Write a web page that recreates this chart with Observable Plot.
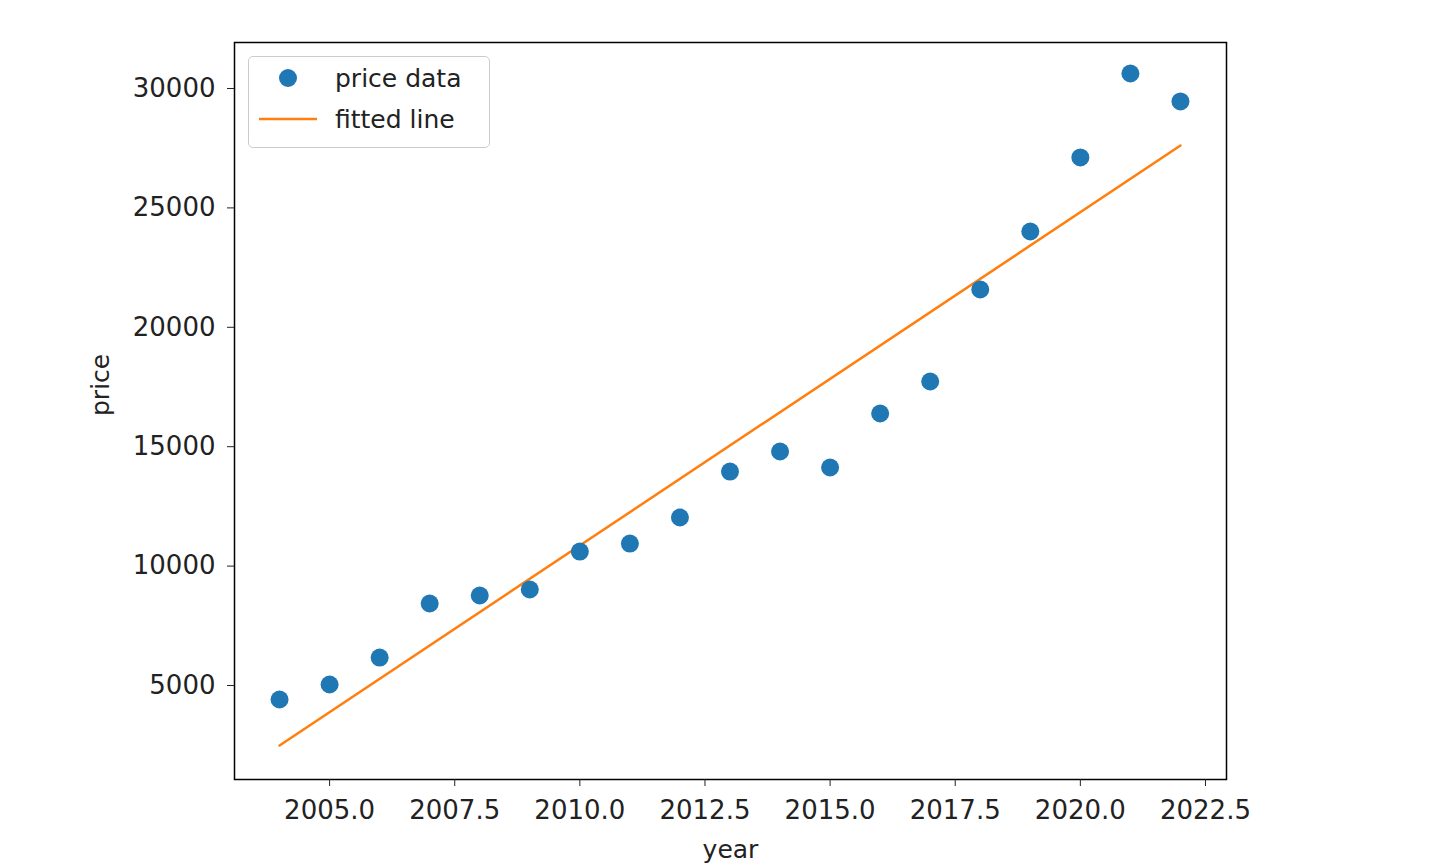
<!DOCTYPE html>
<html><head><meta charset="utf-8">
<script src="https://cdn.jsdelivr.net/npm/d3@7"></script>
<script src="https://cdn.jsdelivr.net/npm/@observablehq/plot@0.6"></script>
<style>
body{margin:0;background:#fff;font-family:"DejaVu Sans",sans-serif;}
#wrap{position:relative;width:1445px;height:865px;}
#legend{position:absolute;left:248px;top:56px;width:240px;height:90px;border:1.5px solid #ccc;border-radius:5px;background:rgba(255,255,255,0.8);font-size:25px;color:#222;}
.row{position:absolute;left:10px;display:flex;align-items:center;}
</style></head>
<body><div id="wrap"><div id="chart"></div>
<div id="legend">
<div class="row" style="top:6px"><svg width="58" height="30"><circle cx="29" cy="15" r="9" fill="#1f77b4"/></svg><span style="margin-left:18px">price data</span></div>
<div class="row" style="top:47px"><svg width="58" height="30"><line x1="0" x2="58" y1="15" y2="15" stroke="#ff7f0e" stroke-width="2.5"/></svg><span style="margin-left:18px">fitted line</span></div>
</div></div>
<script>
const years = [2004,2005,2006,2007,2008,2009,2010,2011,2012,2013,2014,2015,2016,2017,2018,2019,2020,2021,2022];
const prices = [4414,5042,6172,8434,8769,9020,10611,10946,12035,13961,14799,14129,16390,17730,21583,24012,27111,30628,29456];
const fitYears = [2004,2022];
const fitPrices = [2487,27613];
const xTicks = [2005,2007.5,2010,2012.5,2015,2017.5,2020,2022.5];
const yTicks = [5000,10000,15000,20000,25000,30000];

const pts = years.map((y,i)=>({year:y,price:prices[i]}));
const fit = fitYears.map((y,i)=>({year:y,price:fitPrices[i]}));

const chart = Plot.plot({
  width:1445,height:865,
  marginLeft:234,marginRight:219,marginTop:42,marginBottom:86,
  style:{fontFamily:"DejaVu Sans, sans-serif",fontSize:"26px",color:"#222"},
  x:{domain:[2003.1,2022.92],label:null},
  y:{domain:[1064,31926],label:null},
  marks:[
    Plot.frame({stroke:"#000",strokeWidth:1.5}),
    Plot.axisX({ticks:xTicks,tickFormat:d=>d.toFixed(1),tickSize:7,tickPadding:14,fontSize:26,label:null}),
    Plot.axisY({ticks:yTicks,tickFormat:d=>String(d),tickSize:7,tickPadding:12,fontSize:26,label:null}),
    Plot.line(fit,{x:"year",y:"price",stroke:"#ff7f0e",strokeWidth:2.5}),
    Plot.dot(pts,{x:"year",y:"price",r:9,fill:"#1f77b4"}),
    Plot.text(["year"],{frameAnchor:"bottom",dy:78,fontSize:25,text:d=>d}),
    Plot.text(["price"],{frameAnchor:"left",dx:-134,dy:5,rotate:-90,fontSize:25,text:d=>d})
  ]
});
document.getElementById("chart").appendChild(chart);
</script></body></html>
